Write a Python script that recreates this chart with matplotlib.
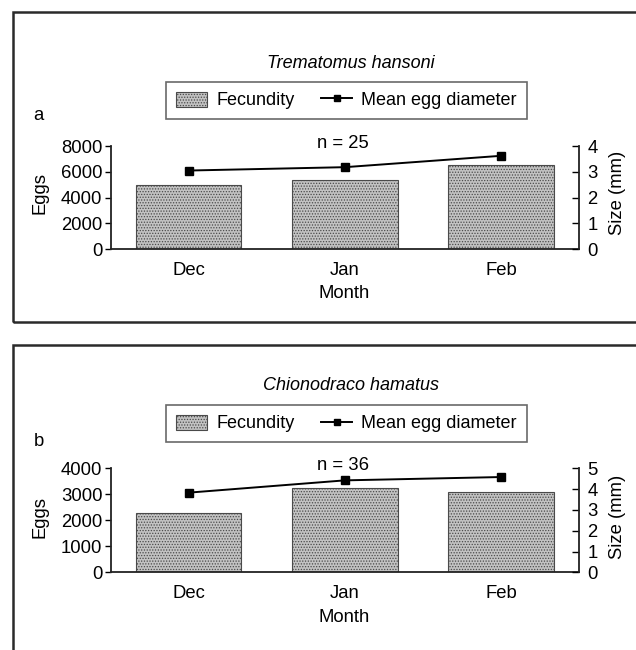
import matplotlib
matplotlib.use("Agg")
import matplotlib.pyplot as plt
from matplotlib.patches import Rectangle, Patch
from matplotlib.lines import Line2D

plt.rcParams['font.family'] = ['Liberation Sans', 'DejaVu Sans']
plt.rcParams['hatch.linewidth'] = 0.6

months = ["Dec", "Jan", "Feb"]

# Panel a: Trematomus hansoni
fec_a = [4950, 5380, 6500]
egg_a = [3.05, 3.18, 3.62]
# Panel b: Chionodraco hamatus
fec_b = [2300, 3230, 3100]
egg_b = [3.83, 4.42, 4.58]

panels = [
    dict(title="Trematomus hansoni", letter="a", n="n = 25", fec=fec_a, egg=egg_a,
         yticks=[0, 2000, 4000, 6000, 8000], rticks=[0, 1, 2, 3, 4]),
    dict(title="Chionodraco hamatus", letter="b", n="n = 36", fec=fec_b, egg=egg_b,
         yticks=[0, 1000, 2000, 3000, 4000], rticks=[0, 1, 2, 3, 4, 5]),
]

W, H = 636, 650
fig = plt.figure(figsize=(W / 100, H / 100), dpi=100)

def fx(px):
    return px / W

def fy(py):
    return 1 - py / H

FS = 13.3
bar_face = '#c2c2c2'
bar_edge = '#4a4a4a'

# layout (pixel positions) per panel
layout = [
    dict(frame_top=12, frame_bot=322, ax_top=146, ax_bot=249.3, title_y=63, leg_y=100.5,
         letter_y=116, n_y=143, month_y=294, ylab_y=193),
    dict(frame_top=345, frame_bot=700, ax_top=468.3, ax_bot=572.3, title_y=386, leg_y=423.5,
         letter_y=441, n_y=465, month_y=617, ylab_y=517),
]

ax_left, ax_right = 110.7, 579.0

for p, L in zip(panels, layout):
    # outer frame
    fig.patches.append(Rectangle((fx(13), fy(L['frame_bot'])), fx(700) - fx(13),
                                 fy(L['frame_top']) - fy(L['frame_bot']),
                                 transform=fig.transFigure, fill=False,
                                 edgecolor='#2a2a2a', linewidth=1.8))
    ax = fig.add_axes([fx(ax_left), fy(L['ax_bot']), fx(ax_right) - fx(ax_left),
                       fy(L['ax_top']) - fy(L['ax_bot'])])
    x = list(range(len(months)))
    ax.bar(x, p['fec'], width=0.675, color=bar_face, edgecolor=bar_edge,
           hatch='......', linewidth=0.8, zorder=2)
    ax.set_xlim(-0.5, 2.5)
    ax.set_ylim(p['yticks'][0], p['yticks'][-1])
    ax.set_yticks(p['yticks'])
    ax.set_xticks(x)
    ax.set_xticklabels(months)
    ax.tick_params(axis='x', length=0, pad=9, labelsize=FS)
    ax.tick_params(axis='y', direction='out', length=4, width=1, pad=2, labelsize=FS)
    for s in ['top', 'right']:
        ax.spines[s].set_visible(False)
    for s in ['left', 'bottom']:
        ax.spines[s].set_linewidth(1.3)
        ax.spines[s].set_color('#222222')

    ax2 = ax.twinx()
    ax2.plot(x, p['egg'], color='black', linewidth=1.4, marker='s', markersize=6,
             zorder=5)
    ax2.set_ylim(p['rticks'][0], p['rticks'][-1])
    ax2.set_yticks(p['rticks'])
    ax2.tick_params(axis='y', direction='in', length=5, width=1, pad=6, labelsize=FS)
    for s in ['top', 'left', 'bottom']:
        ax2.spines[s].set_visible(False)
    ax2.spines['right'].set_linewidth(1.3)
    ax2.spines['right'].set_color('#222222')

    fig.text(fx(351), fy(L['title_y']), p['title'], style='italic', fontsize=13,
             ha='center', va='center')
    fig.text(fx(38.5), fy(L['letter_y']), p['letter'], fontsize=FS, ha='center', va='center')
    fig.text(fx(343), fy(L['n_y']), p['n'], fontsize=FS, ha='center', va='center')
    fig.text(fx(344), fy(L['month_y']), "Month", fontsize=FS, ha='center', va='center')
    fig.text(fx(40.5), fy(L['ylab_y']), "Eggs", fontsize=FS, ha='center', va='center',
             rotation=90)
    fig.text(fx(618), fy(L['ylab_y']), "Size (mm)", fontsize=FS, ha='center', va='center',
             rotation=90)

    handles = [Patch(facecolor=bar_face, edgecolor=bar_edge, hatch='......', linewidth=0.8),
               Line2D([], [], color='black', linewidth=1.4, marker='s', markersize=5)]
    leg = fig.legend(handles, ["Fecundity", "Mean egg diameter"], ncol=2,
                     loc='center', bbox_to_anchor=(fx(346.5), fy(L['leg_y'])),
                     fontsize=13, frameon=True, fancybox=False, edgecolor='#444444',
                     handlelength=1.7, handleheight=0.9, handletextpad=0.5,
                     columnspacing=1.5, borderpad=0.55)
    leg.get_frame().set_linewidth(1.2)

fig.savefig("out.png", dpi=100)
